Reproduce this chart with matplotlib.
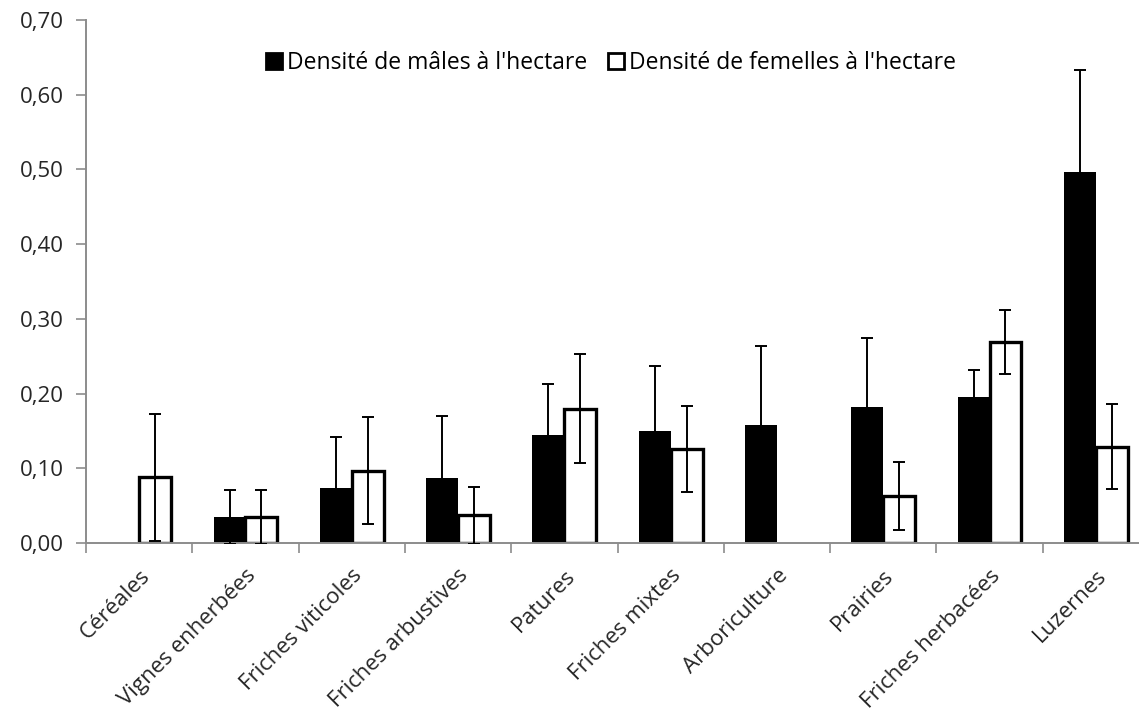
import numpy as np
import matplotlib
matplotlib.use("Agg")
import matplotlib.pyplot as plt
from matplotlib.ticker import FuncFormatter, MultipleLocator
from matplotlib.patches import Patch

plt.rcParams['font.family'] = ['Open Sans', 'DejaVu Sans']

categories = ["Céréales", "Vignes enherbées", "Friches viticoles", "Friches arbustives",
              "Patures", "Friches mixtes", "Arboriculture", "Prairies",
              "Friches herbacées", "Luzernes"]

males = [0.0, 0.035, 0.073, 0.087, 0.145, 0.150, 0.158, 0.182, 0.196, 0.496]
males_err = [0.0, 0.036, 0.069, 0.083, 0.068, 0.087, 0.106, 0.093, 0.036, 0.137]
females = [0.088, 0.035, 0.097, 0.037, 0.180, 0.126, 0.0, 0.063, 0.269, 0.129]
females_err = [0.085, 0.036, 0.072, 0.038, 0.073, 0.058, 0.0, 0.045, 0.043, 0.057]

fig = plt.figure(figsize=(11.39, 7.16), dpi=100)
ax = fig.add_axes([86 / 1139, 173 / 716, 1063 / 1139, 523 / 716])

x = np.arange(len(categories)) + 0.5
w = 0.30

males = np.array(males)
females = np.array(females)
m = males > 0
f = females > 0

# only draw bars that have a value
ax.bar(x[m] - w / 2, males[m], w, color='black', edgecolor='black', linewidth=0, zorder=2)
ax.bar(x[f] + w / 2, females[f], w, color='white', edgecolor='black', linewidth=2.4, zorder=2)

ax.errorbar(x[m] - w / 2, males[m], yerr=np.array(males_err)[m], fmt='none',
            ecolor='black', elinewidth=1.4, capsize=4.5, capthick=1.4, zorder=3)
ax.errorbar(x[f] + w / 2, females[f], yerr=np.array(females_err)[f], fmt='none',
            ecolor='black', elinewidth=1.4, capsize=4.5, capthick=1.4, zorder=3)

ax.set_xlim(0, len(categories))
ax.set_ylim(0, 0.70)
ax.yaxis.set_major_locator(MultipleLocator(0.10))
ax.yaxis.set_major_formatter(FuncFormatter(lambda v, p: f"{v:.2f}".replace('.', ',')))

ax.set_xticks(np.arange(len(categories) + 1))
ax.set_xticklabels([])
ax.set_xticks(x, minor=True)
ax.set_xticklabels(categories, minor=True, rotation=45, ha='right', va='top',
                   rotation_mode='anchor', fontsize=16, color='#262626')
ax.tick_params(axis='x', which='minor', length=0, pad=16)
ax.tick_params(axis='x', which='major', length=7, color='#8c8c8c', width=1.2)
ax.tick_params(axis='y', length=7, color='#8c8c8c', width=1.2, labelsize=16,
               labelcolor='#262626', pad=9)

for s in ['top', 'right']:
    ax.spines[s].set_visible(False)
for s in ['left', 'bottom']:
    ax.spines[s].set_color('#8c8c8c')
    ax.spines[s].set_linewidth(1.4)

handles = [Patch(facecolor='black', edgecolor='black', linewidth=2),
           Patch(facecolor='white', edgecolor='black', linewidth=2)]
labels = ["Densité de mâles à l'hectare", "Densité de femelles à l'hectare"]
fig.legend(handles, labels, loc='center', bbox_to_anchor=(611 / 1139, 1 - 63 / 716),
           ncol=2, frameon=False, fontsize=16.5, handlelength=0.7, handleheight=0.7,
           handletextpad=0.2, columnspacing=0.9)

fig.savefig("out.png", dpi=100)
